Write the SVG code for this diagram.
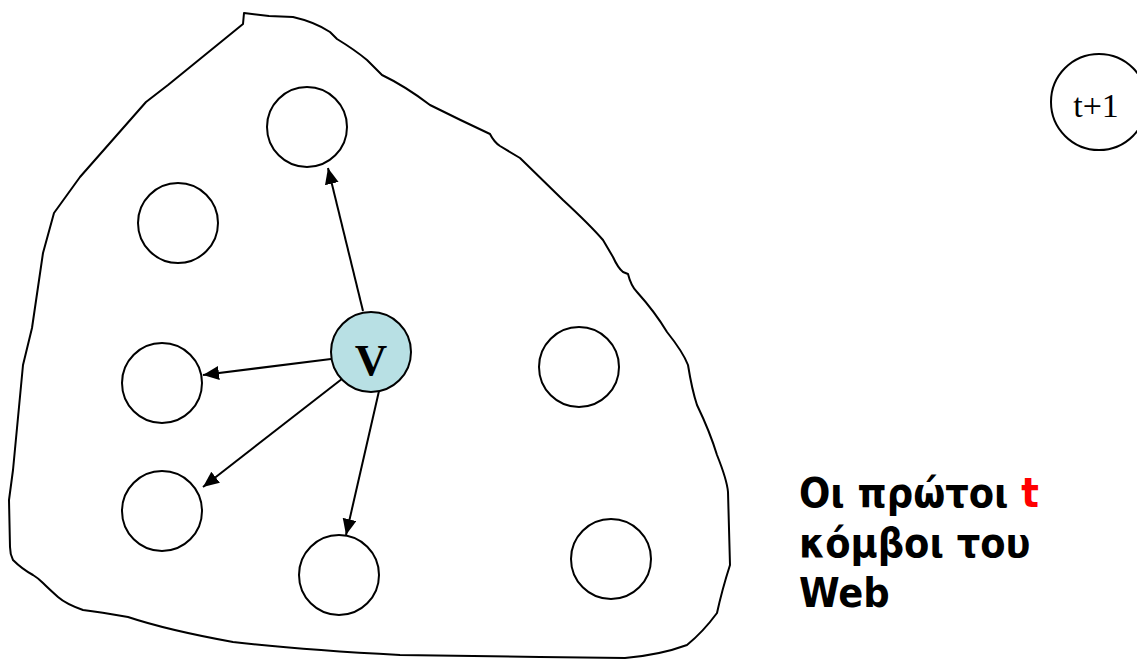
<svg xmlns="http://www.w3.org/2000/svg" width="1137" height="659" viewBox="0 0 1137 659">
  <style>
    .node { fill: #ffffff; stroke: #000000; stroke-width: 2; }
    .vnode { fill: #b8e0e4; stroke: #000000; stroke-width: 2; }
    .edge { fill: none; stroke: #000000; stroke-width: 2; marker-end: url(#arrow); }
    .blob { fill: none; stroke: #000000; stroke-width: 2; stroke-linejoin: round; }
    .serif { font-family: "Liberation Serif", "Times New Roman", serif; fill: #000000; }
    .caption { font-family: "DejaVu Sans Condensed", "DejaVu Sans", Verdana, sans-serif; font-stretch: condensed; font-weight: bold; font-size: 41px; fill: #000000; }
  </style>
  <defs>
    <marker id="arrow" markerUnits="userSpaceOnUse" markerWidth="18" markerHeight="15" refX="16" refY="7" orient="auto">
      <path d="M0,0 L16,7 L0,14 Z" fill="#000000"/>
    </marker>
  </defs>

  <rect width="1137" height="659" fill="#ffffff"/>

  <!-- hand-drawn region holding the first t nodes -->
  <path class="blob" d="M244,13 L269,16 L293,17 Q315,22 330,32 L337,39 Q355,50 367,60 L382,75
    Q405,86 430,105 Q460,120 490,134 Q494,142 500,146 L520,158 L563,200 Q590,225 603,240
    L613,257 Q618,268 623,272 L628,274 Q631,286 637,292 Q655,312 667,332 Q683,352 688,365
    Q692,390 697,405 Q710,432 717,455 Q727,480 728,492 L730,565 Q722,590 717,613
    Q703,632 687,645 Q660,655 625,658 L540,657 L400,655 Q300,650 233,642 Q167,630 128,617
    Q100,612 83,610 Q66,604 58,597 Q48,588 43,583 Q38,578 33,575 Q22,569 13,560
    Q10,554 10,547 L9,500 L13,470 L23,365 L32,328 L43,253 L54,213 L80,177 L146,102
    L168,85 L243,24 Z"/>

  <!-- connectors -->
  <g id="edges">
    <line class="edge" x1="363" y1="311" x2="328" y2="168"/>
    <line class="edge" x1="331" y1="359" x2="203" y2="375"/>
    <line class="edge" x1="347" y1="375" x2="203" y2="487"/>
    <line class="edge" x1="379" y1="391" x2="346" y2="535"/>
  </g>

  <!-- nodes -->
  <g id="n-top"><circle class="node" cx="307" cy="127" r="40"/></g>
  <g id="n-upper-left"><circle class="node" cx="178" cy="223" r="40"/></g>
  <g id="n-mid-left"><circle class="node" cx="162" cy="383" r="40"/></g>
  <g id="n-low-left"><circle class="node" cx="162" cy="511" r="40"/></g>
  <g id="n-bottom"><circle class="node" cx="339" cy="575" r="40"/></g>
  <g id="n-mid-right"><circle class="node" cx="579" cy="367" r="40"/></g>
  <g id="n-low-right"><circle class="node" cx="611" cy="559" r="40"/></g>
  <g id="n-v">
    <circle class="vnode" cx="371" cy="352" r="40"/>
    <text class="serif" x="371" y="375" font-size="45" font-weight="bold" text-anchor="middle">V</text>
  </g>
  <g id="n-t1">
    <circle class="node" cx="1099" cy="102" r="48"/>
    <text class="serif" x="1096" y="117" font-size="34" text-anchor="middle">t+1</text>
  </g>

  <!-- caption -->
  <g id="caption">
    <text class="caption" x="799" y="507">Οι πρώτοι <tspan fill="#ff0000">t</tspan></text>
    <text class="caption" x="799" y="557">κόμβοι του</text>
    <text class="caption" x="799" y="607">Web</text>
  </g>
</svg>
